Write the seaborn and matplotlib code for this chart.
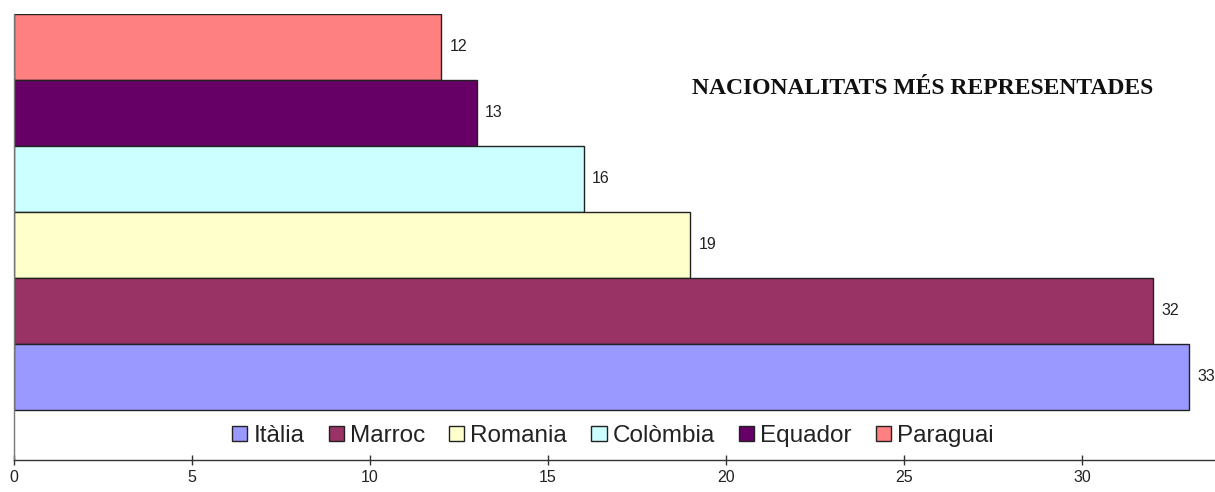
import matplotlib
matplotlib.use("Agg")
import matplotlib.pyplot as plt
import seaborn as sns
import pandas as pd
from matplotlib.patches import Patch

countries = ["Itàlia", "Marroc", "Romania", "Colòmbia", "Equador", "Paraguai"]
values = [33, 32, 19, 16, 13, 12]
colors = ["#9999FF", "#993366", "#FFFFCC", "#CCFFFF", "#660066", "#FF8080"]
xticks = [0, 5, 10, 15, 20, 25, 30]
title = "NACIONALITATS MÉS REPRESENTADES"

df = pd.DataFrame({"pais": countries, "valor": values})
palette = dict(zip(countries, colors))
order = countries[::-1]

sns.set_style("white")
plt.rcParams["font.family"] = ["Liberation Sans", "DejaVu Sans"]

fig = plt.figure(figsize=(12.15, 4.92), dpi=100)
ax = fig.add_axes([14 / 1215, 1 - 460 / 492, 1 - 14 / 1215, (460 - 14) / 492])

sns.barplot(data=df, x="valor", y="pais", hue="pais", order=order,
            hue_order=order, palette=palette, orient="h", width=1.0,
            dodge=False, legend=False, edgecolor="#222222", linewidth=1.0,
            saturation=1.0, ax=ax)

for cont in ax.containers:
    ax.bar_label(cont, padding=6, fontsize=11.5, color="#222222")

ax.set_xlim(0, (1215 - 14) / 35.6)
ax.set_ylim(6.26, -0.5)
ax.set_xticks(xticks)
ax.set_xticklabels([str(t) for t in xticks], fontsize=11.5)
ax.set_yticks([])
ax.set_xlabel("")
ax.set_ylabel("")
ax.tick_params(axis="x", bottom=True, direction="inout", length=7, width=1,
               color="#333333", pad=4, labelcolor="#222222")

for s in ["top", "right"]:
    ax.spines[s].set_visible(False)
ax.spines["left"].set_color("#777777")
ax.spines["bottom"].set_color("#333333")
ax.spines["left"].set_linewidth(1)
ax.spines["bottom"].set_linewidth(1)

handles = [Patch(facecolor=palette[c], edgecolor="#222222", linewidth=1.0) for c in countries]
ax.legend(handles, countries, ncol=6, loc="center",
          bbox_to_anchor=(620 / 1215 - 14 / 1215, 1 - (436 - 14) / 446),
          bbox_transform=ax.transAxes, frameon=False, fontsize=17.5, handlelength=0.62,
          handleheight=0.62, handletextpad=0.25, columnspacing=1.0, borderaxespad=0,
          labelcolor="#222222")

ax.text(923 / 1215, 1 - 89 / 492, title, transform=fig.transFigure, ha="center", va="center",
        fontsize=17, fontweight="bold", family="Liberation Serif", color="#111111")

fig.savefig("out.png", dpi=100)
